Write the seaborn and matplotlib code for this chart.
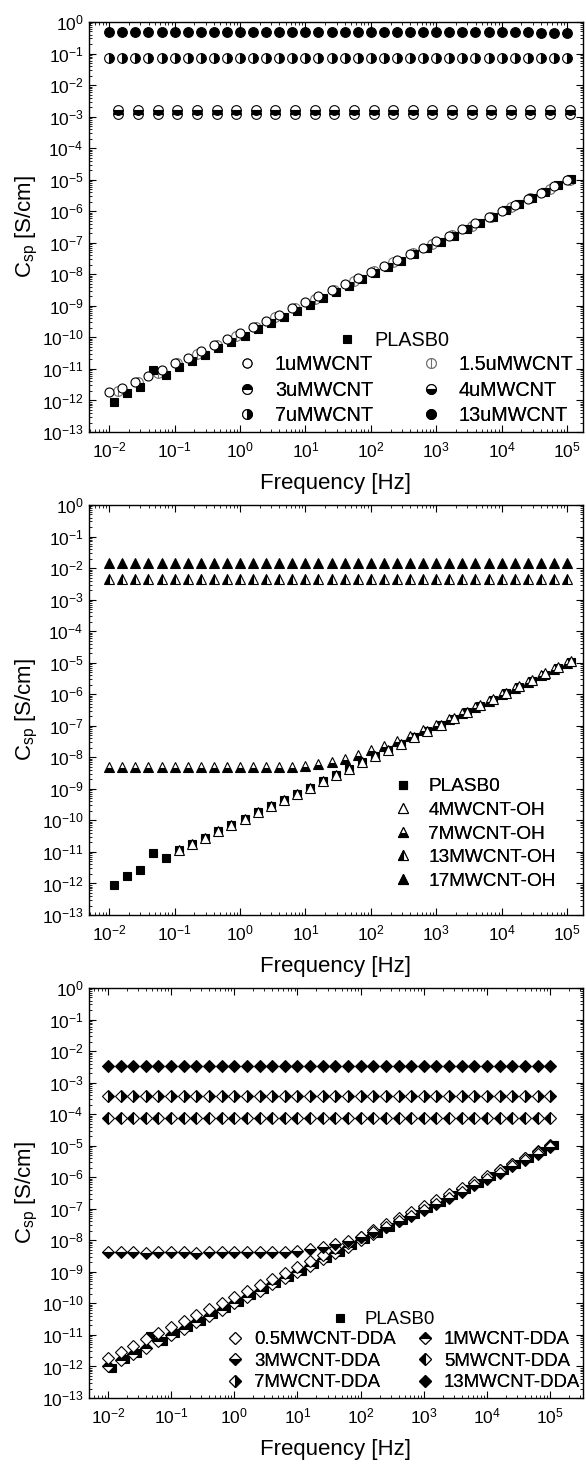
import numpy as np
import matplotlib
matplotlib.use("Agg")
import matplotlib.pyplot as plt
import seaborn as sns
from matplotlib.path import Path
from matplotlib.ticker import LogLocator, NullFormatter, LogFormatterSciNotation, FixedLocator

# ---------------- data ----------------
# frequency grids (Hz)
freq_a = [0.01, 0.0158, 0.0251, 0.0398, 0.0631, 0.1, 0.158, 0.251, 0.398, 0.631,
          1.0, 1.58, 2.51, 3.98, 6.31, 10.0, 15.8, 25.1, 39.8, 63.1,
          100, 158, 251, 398, 631, 1000, 1580, 2510, 3980, 6310,
          1.0e4, 1.58e4, 2.51e4, 3.98e4, 6.31e4, 1.0e5]
freq_plasb0 = [0.0117, 0.0185, 0.0293, 0.0464, 0.0735, 0.117, 0.185, 0.293, 0.464, 0.735,
               1.17, 1.85, 2.93, 4.64, 7.35, 11.7, 18.5, 29.3, 46.4, 73.5,
               117, 185, 293, 464, 735, 1170, 1850, 2930, 4640, 7350,
               1.17e4, 1.85e4, 2.93e4, 4.64e4, 7.35e4, 1.17e5]
freq_b = [0.0138, 0.0275, 0.055, 0.11, 0.219, 0.437, 0.871, 1.74, 3.47, 6.92,
          13.8, 27.5, 55.0, 110, 219, 437, 871, 1740, 3470, 6920,
          1.38e4, 2.75e4, 5.5e4, 1.1e5]
freq_oh4 = [0.117, 0.185, 0.293, 0.464, 0.735,
            1.17, 1.85, 2.93, 4.64, 7.35, 11.7, 18.5, 29.3, 46.4, 73.5,
            117, 185, 293, 464, 735, 1170, 1850, 2930, 4640, 7350,
            1.17e4, 1.85e4, 2.93e4, 4.64e4, 7.35e4, 1.17e5]

x_ticks = [1e-2, 1e-1, 1e0, 1e1, 1e2, 1e3, 1e4, 1e5]
y_ticks = [1e-13, 1e-12, 1e-11, 1e-10, 1e-9, 1e-8, 1e-7, 1e-6, 1e-5, 1e-4, 1e-3, 1e-2, 1e-1, 1e0]

# PLASB0 (shared by all panels)
plasb0 = [9e-13, 1.7e-12, 2.6e-12, 9e-12, 6.3e-12, 1.15e-11, 1.8e-11, 2.85e-11, 4.5e-11, 7.1e-11,
          1.12e-10, 1.78e-10, 2.8e-10, 4.4e-10, 7.0e-10, 1.1e-9, 1.75e-9, 2.75e-9, 4.35e-9, 6.9e-9,
          1.09e-8, 1.72e-8, 2.7e-8, 4.3e-8, 6.8e-8, 1.07e-7, 1.7e-7, 2.7e-7, 4.25e-7, 6.7e-7,
          1.06e-6, 1.68e-6, 2.65e-6, 4.2e-6, 6.6e-6, 1.05e-5]

# Panel 1: uMWCNT
u1 = [1.8e-12, 2.5e-12, 3.8e-12, 6.0e-12, 9.5e-12, 1.5e-11, 2.3e-11, 3.6e-11, 5.6e-11, 8.8e-11,
      1.38e-10, 2.15e-10, 3.4e-10, 5.3e-10, 8.3e-10, 1.3e-9, 2.0e-9, 3.1e-9, 4.9e-9, 7.6e-9,
      1.2e-8, 1.85e-8, 2.9e-8, 4.5e-8, 7.0e-8, 1.1e-7, 1.7e-7, 2.7e-7, 4.2e-7, 6.6e-7,
      1.03e-6, 1.6e-6, 2.5e-6, 3.9e-6, 6.1e-6, 9.5e-6]
u15 = [2.0e-12, 3.9e-12, 7.6e-12, 1.5e-11, 2.9e-11, 5.7e-11, 1.12e-10, 2.2e-10, 4.3e-10, 8.4e-10,
       1.65e-9, 3.2e-9, 6.3e-9, 1.23e-8, 2.4e-8, 4.7e-8, 9.2e-8, 1.8e-7, 3.5e-7, 6.8e-7,
       1.33e-6, 2.6e-6, 5.1e-6, 1.0e-5]
u3 = [1.2e-3, 1.2e-3, 1.19e-3, 1.2e-3, 1.21e-3, 1.2e-3, 1.2e-3, 1.19e-3, 1.2e-3, 1.2e-3,
      1.2e-3, 1.21e-3, 1.2e-3, 1.2e-3, 1.19e-3, 1.2e-3, 1.2e-3, 1.2e-3, 1.21e-3, 1.2e-3,
      1.2e-3, 1.19e-3, 1.2e-3, 1.2e-3]
u4 = [1.6e-3, 1.6e-3, 1.59e-3, 1.6e-3, 1.61e-3, 1.6e-3, 1.6e-3, 1.6e-3, 1.59e-3, 1.6e-3,
      1.6e-3, 1.6e-3, 1.61e-3, 1.6e-3, 1.6e-3, 1.59e-3, 1.6e-3, 1.6e-3, 1.6e-3, 1.61e-3,
      1.6e-3, 1.6e-3, 1.59e-3, 1.6e-3]
u7 = [0.072, 0.072, 0.071, 0.072, 0.072, 0.073, 0.072, 0.072, 0.071, 0.072,
      0.072, 0.072, 0.073, 0.072, 0.072, 0.071, 0.072, 0.072, 0.072, 0.073,
      0.072, 0.072, 0.071, 0.072, 0.072, 0.072, 0.073, 0.072, 0.072, 0.071,
      0.072, 0.072, 0.072, 0.071, 0.071, 0.070]
u13 = [0.47, 0.48, 0.48, 0.47, 0.48, 0.48, 0.48, 0.47, 0.48, 0.48,
       0.48, 0.48, 0.47, 0.48, 0.48, 0.48, 0.48, 0.47, 0.48, 0.48,
       0.48, 0.47, 0.48, 0.48, 0.48, 0.47, 0.48, 0.48, 0.47, 0.48,
       0.47, 0.47, 0.47, 0.46, 0.46, 0.44]

# Panel 2: MWCNT-OH
oh4 = [1.15e-11, 1.8e-11, 2.85e-11, 4.5e-11, 7.1e-11,
       1.12e-10, 1.78e-10, 2.8e-10, 4.4e-10, 7.0e-10, 1.1e-9, 1.75e-9, 2.75e-9, 4.35e-9, 6.9e-9,
       1.09e-8, 1.72e-8, 2.7e-8, 4.3e-8, 6.8e-8, 1.07e-7, 1.72e-7, 2.75e-7, 4.4e-7, 7.0e-7,
       1.12e-6, 1.8e-6, 2.9e-6, 4.6e-6, 7.3e-6, 1.15e-5]
oh7 = [5.1e-9, 5.0e-9, 5.0e-9, 5.0e-9, 4.9e-9, 5.0e-9, 4.9e-9, 4.9e-9, 4.9e-9, 4.9e-9,
       4.9e-9, 4.9e-9, 5.0e-9, 5.0e-9, 5.1e-9, 5.4e-9, 6.0e-9, 7.2e-9, 9.0e-9, 1.2e-8,
       1.65e-8, 2.3e-8, 3.3e-8, 4.8e-8, 7.1e-8, 1.08e-7, 1.65e-7, 2.55e-7, 4.0e-7, 6.3e-7,
       1.0e-6, 1.6e-6, 2.5e-6, 4.0e-6, 6.4e-6, 1.0e-5]
oh13 = [4.6e-3, 4.6e-3, 4.6e-3, 4.5e-3, 4.6e-3, 4.6e-3, 4.6e-3, 4.6e-3, 4.5e-3, 4.6e-3,
        4.6e-3, 4.6e-3, 4.6e-3, 4.6e-3, 4.5e-3, 4.6e-3, 4.6e-3, 4.6e-3, 4.6e-3, 4.6e-3,
        4.5e-3, 4.6e-3, 4.6e-3, 4.6e-3, 4.6e-3, 4.6e-3, 4.5e-3, 4.6e-3, 4.6e-3, 4.6e-3,
        4.6e-3, 4.6e-3, 4.5e-3, 4.6e-3, 4.6e-3, 4.6e-3]
oh17 = [1.4e-2, 1.4e-2, 1.4e-2, 1.4e-2, 1.4e-2, 1.4e-2, 1.4e-2, 1.4e-2, 1.4e-2, 1.4e-2,
        1.4e-2, 1.4e-2, 1.4e-2, 1.4e-2, 1.4e-2, 1.4e-2, 1.4e-2, 1.4e-2, 1.4e-2, 1.4e-2,
        1.4e-2, 1.4e-2, 1.4e-2, 1.4e-2, 1.4e-2, 1.4e-2, 1.4e-2, 1.4e-2, 1.4e-2, 1.4e-2,
        1.4e-2, 1.4e-2, 1.4e-2, 1.4e-2, 1.4e-2, 1.4e-2]

# Panel 3: MWCNT-DDA
dda05 = [1.9e-12, 2.95e-12, 4.6e-12, 7.2e-12, 1.12e-11, 1.74e-11, 2.7e-11, 4.2e-11, 6.6e-11, 1.02e-10,
         1.6e-10, 2.5e-10, 3.8e-10, 6.0e-10, 9.3e-10, 1.45e-9, 2.25e-9, 3.5e-9, 5.5e-9, 8.5e-9,
         1.32e-8, 2.05e-8, 3.2e-8, 5.0e-8, 7.8e-8, 1.2e-7, 1.87e-7, 2.9e-7, 4.5e-7, 7.0e-7,
         1.1e-6, 1.7e-6, 2.65e-6, 4.1e-6, 6.4e-6, 1.0e-5]
dda1 = [1.0e-12, 1.58e-12, 2.5e-12, 3.98e-12, 6.3e-12, 1.0e-11, 1.58e-11, 2.5e-11, 3.98e-11, 6.3e-11,
        1.0e-10, 1.58e-10, 2.5e-10, 3.98e-10, 6.3e-10, 1.0e-9, 1.58e-9, 2.5e-9, 3.98e-9, 6.3e-9,
        1.0e-8, 1.6e-8, 2.55e-8, 4.0e-8, 6.4e-8, 1.02e-7, 1.62e-7, 2.6e-7, 4.1e-7, 6.5e-7,
        1.03e-6, 1.65e-6, 2.6e-6, 4.15e-6, 6.6e-6, 1.05e-5]
dda3 = [4.2e-9, 4.2e-9, 4.2e-9, 4.1e-9, 4.2e-9, 4.2e-9, 4.2e-9, 4.1e-9, 4.2e-9, 4.2e-9,
        4.2e-9, 4.2e-9, 4.2e-9, 4.3e-9, 4.4e-9, 4.7e-9, 5.2e-9, 6.0e-9, 7.4e-9, 9.6e-9,
        1.3e-8, 1.85e-8, 2.7e-8, 4.0e-8, 6.1e-8, 9.4e-8, 1.45e-7, 2.25e-7, 3.5e-7, 5.5e-7,
        8.7e-7, 1.38e-6, 2.2e-6, 3.5e-6, 5.6e-6, 9.0e-6]
dda5 = [7.4e-5, 7.4e-5, 7.3e-5, 7.4e-5, 7.4e-5, 7.4e-5, 7.3e-5, 7.4e-5, 7.4e-5, 7.4e-5,
        7.4e-5, 7.4e-5, 7.3e-5, 7.4e-5, 7.4e-5, 7.4e-5, 7.4e-5, 7.3e-5, 7.4e-5, 7.4e-5,
        7.4e-5, 7.4e-5, 7.3e-5, 7.4e-5, 7.4e-5, 7.4e-5, 7.4e-5, 7.3e-5, 7.4e-5, 7.4e-5,
        7.4e-5, 7.4e-5, 7.3e-5, 7.4e-5, 7.4e-5, 7.3e-5]
dda7 = [3.8e-4, 3.8e-4, 3.8e-4, 3.7e-4, 3.8e-4, 3.8e-4, 3.8e-4, 3.8e-4, 3.7e-4, 3.8e-4,
        3.8e-4, 3.8e-4, 3.8e-4, 3.7e-4, 3.8e-4, 3.8e-4, 3.8e-4, 3.8e-4, 3.7e-4, 3.8e-4,
        3.8e-4, 3.8e-4, 3.8e-4, 3.7e-4, 3.8e-4, 3.8e-4, 3.8e-4, 3.8e-4, 3.7e-4, 3.8e-4,
        3.8e-4, 3.8e-4, 3.8e-4, 3.7e-4, 3.8e-4, 3.8e-4]
dda13 = [3.3e-3, 3.3e-3, 3.3e-3, 3.3e-3, 3.3e-3, 3.3e-3, 3.3e-3, 3.3e-3, 3.3e-3, 3.3e-3,
         3.3e-3, 3.3e-3, 3.3e-3, 3.3e-3, 3.3e-3, 3.3e-3, 3.3e-3, 3.3e-3, 3.3e-3, 3.3e-3,
         3.3e-3, 3.3e-3, 3.3e-3, 3.3e-3, 3.3e-3, 3.3e-3, 3.3e-3, 3.3e-3, 3.3e-3, 3.3e-3,
         3.3e-3, 3.3e-3, 3.3e-3, 3.3e-3, 3.3e-3, 3.4e-3]

xlabel_text = "Frequency [Hz]"
ylabel_text = r"C$_{\mathregular{sp}}$ [S/cm]"

# ---------------- style ----------------
sns.set_theme(style="ticks")
plt.rcParams["font.family"] = ["Liberation Sans", "DejaVu Sans"]
plt.rcParams.update({
    "mathtext.fontset": "custom",
    "mathtext.rm": "Liberation Sans",
    "mathtext.it": "Liberation Sans:italic",
    "mathtext.bf": "Liberation Sans:bold",
    "mathtext.default": "regular",
    "axes.unicode_minus": False,
    "text.color": "black",
    "axes.labelcolor": "black",
    "axes.edgecolor": "black",
    "xtick.color": "black",
    "ytick.color": "black",
    "axes.linewidth": 1.0,
})

W, H = 586, 1465
fig = plt.figure(figsize=(W / 100, H / 100), dpi=100)


def px(x):
    return x / W


def py(y):
    return 1 - y / H


def make_axes(top, bottom, left=89, right=583):
    return fig.add_axes([px(left), py(bottom), px(right) - px(left), (bottom - top) / H])


circ_bar = Path.make_compound_path(
    Path.unit_circle(), Path([[0, -1], [0, 1]], [Path.MOVETO, Path.LINETO]))


def draw(ax, x, y, label, marker, fill="full", ms=7, mfc="black", mec="black", mew=0.8):
    kw = dict(marker=marker, linestyle="", markersize=ms, markeredgecolor=mec,
              markeredgewidth=mew, markerfacecolor=mfc, color=mec, label=label)
    if fill != "full":
        kw.update(fillstyle=fill, markerfacecoloralt="white", markerfacecolor="black")
    sns.lineplot(x=x, y=y, ax=ax, legend=False, errorbar=None, sort=False, **kw)


def style_axes(ax, xlim):
    ax.set_xscale("log")
    ax.set_yscale("log")
    ax.set_xlim(*xlim)
    ax.set_ylim(1e-13, 1)
    ax.xaxis.set_major_locator(FixedLocator(x_ticks))
    ax.yaxis.set_major_locator(FixedLocator(y_ticks))
    for axis in (ax.xaxis, ax.yaxis):
        axis.set_minor_locator(LogLocator(base=10, subs=np.arange(2, 10) * 1.0, numticks=200))
        axis.set_minor_formatter(NullFormatter())
        axis.set_major_formatter(LogFormatterSciNotation())
    ax.tick_params(which="both", direction="in", top=True, right=True)
    ax.tick_params(which="major", length=5, width=0.8, labelsize=12.5)
    ax.tick_params(axis="x", which="major", pad=6)
    ax.tick_params(axis="y", which="major", pad=4)
    ax.tick_params(which="minor", length=2.5, width=0.6)
    ax.set_xlabel(xlabel_text, fontsize=16)
    ax.set_ylabel(ylabel_text, fontsize=16)
    ax.xaxis.set_label_coords(0.5, -0.1)
    ax.yaxis.set_label_coords(-0.1, 0.5)
    for s in ax.spines.values():
        s.set_linewidth(1.0)
        s.set_color("black")


def legend(ax, names, anchor, ncol=1, fs=14, htp=0.9, ls=0.15, cs=2.0):
    h, l = ax.get_legend_handles_labels()
    d = dict(zip(l, h))
    leg = ax.legend([d[n] for n in names], names, loc="upper left",
                    bbox_to_anchor=(px(anchor[0]), py(anchor[1])), bbox_transform=fig.transFigure,
                    frameon=False, fontsize=fs, handlelength=1.0, handletextpad=htp,
                    borderpad=0, borderaxespad=0, labelspacing=ls, columnspacing=cs,
                    ncol=ncol, numpoints=1)
    ax.add_artist(leg)
    return leg


# ---------------- panel 1 ----------------
ax1 = make_axes(22, 432)
style_axes(ax1, (10 ** -2.31, 10 ** 5.245))
draw(ax1, freq_b, u15, "1.5uMWCNT", circ_bar, ms=7, mfc="white", mec="#707070")
draw(ax1, freq_plasb0, plasb0, "PLASB0", "s", ms=5.8)
draw(ax1, freq_a, u1, "1uMWCNT", "o", ms=6.5, mfc="white")
draw(ax1, freq_b, u3, "3uMWCNT", "o", fill="top", ms=7)
draw(ax1, freq_b, u4, "4uMWCNT", "o", fill="bottom", ms=7)
draw(ax1, freq_a, u7, "7uMWCNT", "o", fill="right", ms=7)
draw(ax1, freq_a, u13, "13uMWCNT", "o", ms=7)
legend(ax1, ["PLASB0"], (337, 331), fs=14.3)
legend(ax1, ["1uMWCNT", "3uMWCNT", "7uMWCNT", "1.5uMWCNT", "4uMWCNT", "13uMWCNT"],
       (237, 355), ncol=2, fs=14.3, ls=0.33, cs=2.4)

# ---------------- panel 2 ----------------
ax2 = make_axes(505, 915)
style_axes(ax2, (10 ** -2.31, 10 ** 5.245))
draw(ax2, freq_plasb0, plasb0, "PLASB0", "s", ms=5.8)
draw(ax2, freq_a, oh7, "7MWCNT-OH", "^", fill="bottom", ms=7)
draw(ax2, freq_oh4, oh4, "4MWCNT-OH", "^", ms=7, mfc="white")
draw(ax2, freq_a, oh13, "13MWCNT-OH", "^", fill="left", ms=7)
draw(ax2, freq_a, oh17, "17MWCNT-OH", "^", ms=7)
legend(ax2, ["PLASB0", "4MWCNT-OH", "7MWCNT-OH", "13MWCNT-OH", "17MWCNT-OH"],
       (393, 778), fs=13.7, htp=0.85, ls=0.33)

# ---------------- panel 3 ----------------
ax3 = make_axes(988, 1398)
style_axes(ax3, (10 ** -2.3, 10 ** 5.52))
draw(ax3, freq_plasb0, plasb0, "PLASB0", "s", ms=5.8)
draw(ax3, freq_a, dda1, "1MWCNT-DDA", "D", fill="top", ms=6)
draw(ax3, freq_a, dda05, "0.5MWCNT-DDA", "D", ms=6, mfc="white")
draw(ax3, freq_a, dda3, "3MWCNT-DDA", "D", fill="bottom", ms=6)
draw(ax3, freq_a, dda5, "5MWCNT-DDA", "D", fill="left", ms=6)
draw(ax3, freq_a, dda7, "7MWCNT-DDA", "D", fill="right", ms=6)
draw(ax3, freq_a, dda13, "13MWCNT-DDA", "D", ms=6)
legend(ax3, ["PLASB0"], (331, 1311), fs=13.4, htp=0.8)
legend(ax3, ["0.5MWCNT-DDA", "3MWCNT-DDA", "7MWCNT-DDA", "1MWCNT-DDA", "5MWCNT-DDA", "13MWCNT-DDA"],
       (226, 1331), ncol=2, fs=13.4, htp=0.5, ls=0.24, cs=1.1)

fig.savefig("out.png", dpi=100)
